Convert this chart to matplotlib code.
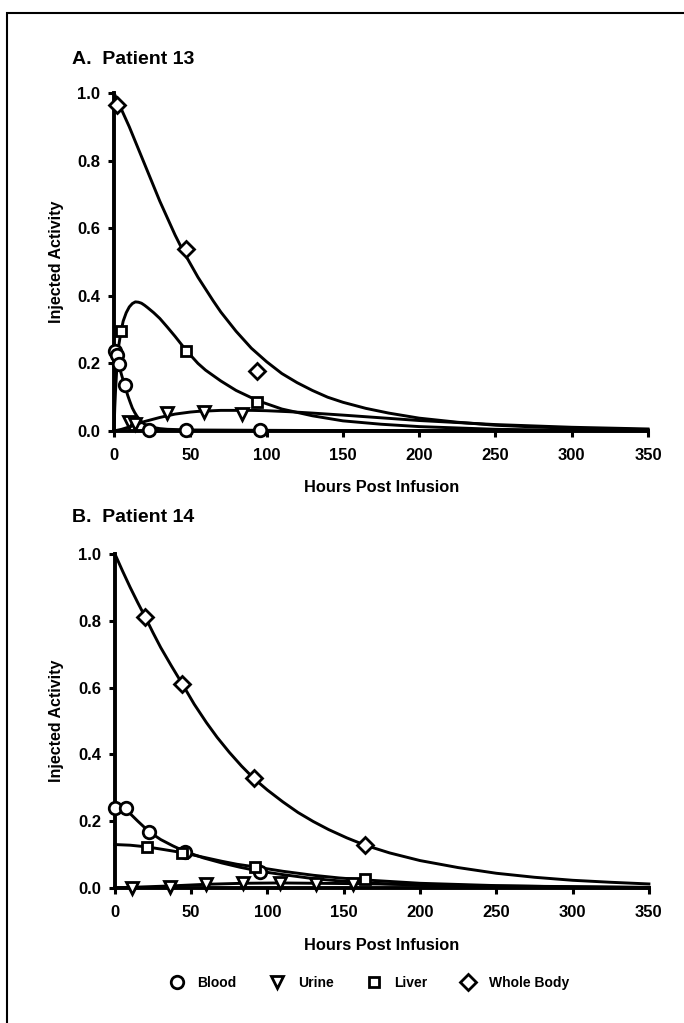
import matplotlib
matplotlib.use("Agg")
import matplotlib.pyplot as plt
from matplotlib.lines import Line2D
from matplotlib.patches import Rectangle

plt.rcParams['font.family'] = ['Liberation Sans', 'DejaVu Sans']
plt.rcParams['font.weight'] = 'bold'

# ---- Patient 13 : measured points ----
a_blood_t = [0.5, 2, 3.5, 7, 23, 47, 96]
a_blood_v = [0.236, 0.225, 0.197, 0.135, 0.004, 0.003, 0.002]
a_urine_t = [10, 14, 35, 59, 84]
a_urine_v = [0.028, 0.022, 0.054, 0.055, 0.05]
a_liver_t = [4.4, 47, 94]
a_liver_v = [0.296, 0.238, 0.087]
a_wb_t = [2.2, 47, 94]
a_wb_v = [0.965, 0.538, 0.178]

# ---- Patient 13 : fitted curves ----
a_blood_ct = [0, 1, 2, 3.5, 5, 6, 7, 8, 9, 10.5, 12, 13.5, 15, 17.5, 20, 25, 30, 35, 50, 100, 150, 350]
a_blood_cv = [0.245, 0.23, 0.214, 0.19, 0.165, 0.15, 0.136, 0.12, 0.105, 0.086, 0.068, 0.055, 0.044, 0.03,
              0.02, 0.011, 0.007, 0.005, 0.003, 0.002, 0.001, 0.0]
a_urine_ct = [0, 5, 10, 15, 20, 25, 30, 35, 40, 45, 50, 55, 60, 70, 80, 90, 100, 115, 130, 150, 175, 200,
              225, 250, 275, 300, 350]
a_urine_cv = [0.0, 0.005, 0.012, 0.02, 0.028, 0.034, 0.04, 0.045, 0.05, 0.053, 0.056, 0.058, 0.059, 0.061,
              0.061, 0.061, 0.06, 0.057, 0.053, 0.047, 0.039, 0.031, 0.025, 0.019, 0.015, 0.011, 0.006]
a_liver_ct = [0, 0.5, 1, 2, 3, 4.4, 6, 8, 10, 12, 14, 16, 18, 20, 22, 26, 30, 35, 40, 47, 55, 60, 70, 80,
              94, 110, 130, 150, 175, 200, 250, 300, 350]
a_liver_cv = [0.0, 0.07, 0.12, 0.2, 0.25, 0.29, 0.325, 0.35, 0.367, 0.377, 0.382, 0.381, 0.378, 0.372,
              0.365, 0.35, 0.333, 0.307, 0.28, 0.24, 0.2, 0.18, 0.148, 0.12, 0.09, 0.065, 0.045, 0.03, 0.02,
              0.013, 0.005, 0.002, 0.001]
a_wb_ct = [0, 2, 5, 10, 15, 20, 25, 30, 35, 40, 45, 50, 55, 60, 65, 70, 80, 90, 100, 110, 120, 130, 140,
           150, 165, 180, 200, 225, 250, 275, 300, 325, 350]
a_wb_cv = [1.0, 0.98, 0.95, 0.9, 0.845, 0.79, 0.735, 0.68, 0.63, 0.58, 0.535, 0.495, 0.455, 0.42, 0.385,
           0.352, 0.295, 0.245, 0.205, 0.17, 0.143, 0.12, 0.1, 0.085, 0.067, 0.053, 0.038, 0.026, 0.017,
           0.012, 0.008, 0.006, 0.004]

# ---- Patient 14 : measured points ----
b_blood_t = [0, 7, 22.5, 46, 95]
b_blood_v = [0.239, 0.239, 0.168, 0.109, 0.049]
b_urine_t = [11, 36, 60, 84, 108, 132, 156]
b_urine_v = [0.0, 0.004, 0.011, 0.014, 0.015, 0.013, 0.012]
b_liver_t = [21, 44, 92, 164]
b_liver_v = [0.123, 0.105, 0.062, 0.026]
b_wb_t = [20, 44, 91, 164]
b_wb_v = [0.81, 0.612, 0.328, 0.128]

# ---- Patient 14 : fitted curves ----
b_blood_ct = [0, 7, 15, 22.5, 30, 38, 46, 58, 70, 82, 95, 110, 130, 150, 165, 200, 250, 300, 350]
b_blood_cv = [0.24, 0.236, 0.2, 0.168, 0.145, 0.126, 0.109, 0.09, 0.075, 0.062, 0.05, 0.04, 0.028, 0.02,
              0.015, 0.008, 0.003, 0.001, 0.0]
b_urine_ct = [0, 11, 36, 60, 84, 108, 132, 156, 200, 250, 300, 350]
b_urine_cv = [0.0, 0.002, 0.006, 0.011, 0.014, 0.015, 0.014, 0.013, 0.01, 0.006, 0.004, 0.002]
b_liver_ct = [0, 10, 21, 32, 44, 57, 70, 80, 92, 110, 130, 147, 164, 200, 250, 300, 350]
b_liver_cv = [0.13, 0.128, 0.123, 0.115, 0.106, 0.093, 0.08, 0.071, 0.063, 0.05, 0.038, 0.03, 0.024,
              0.014, 0.007, 0.003, 0.001]
b_wb_ct = [0, 5, 10, 15, 20, 25, 30, 37, 44, 52, 60, 67, 75, 83, 91, 100, 110, 120, 130, 140, 152, 164, 180,
           200, 225, 250, 275, 300, 325, 350]
b_wb_cv = [1.0, 0.949, 0.9, 0.854, 0.81, 0.764, 0.72, 0.665, 0.612, 0.55, 0.495, 0.451, 0.406, 0.365, 0.328,
           0.293, 0.258, 0.226, 0.199, 0.175, 0.15, 0.128, 0.105, 0.082, 0.061, 0.044, 0.032, 0.023, 0.017,
           0.012]

xticks = [0, 50, 100, 150, 200, 250, 300, 350]
yticks = [0.0, 0.2, 0.4, 0.6, 0.8, 1.0]

fig = plt.figure(figsize=(6.84, 10.23), dpi=100)
fig.patches.append(Rectangle((0.0102, -0.2), 1.2, 1.1876, transform=fig.transFigure,
                             fill=False, edgecolor='black', linewidth=1.5))

mk = dict(markerfacecolor='white', markeredgecolor='black', markeredgewidth=2.0,
          linestyle='none', clip_on=False, zorder=5)


def panel(ax, curves, points):
    for t, v in curves:
        ax.plot(t, v, color='black', linewidth=2.1, clip_on=False, zorder=3,
                solid_joinstyle='round')
    for (t, v), m, s in zip(points, ['o', 'v', 's', 'D'], [9, 8, 7.5, 8]):
        ax.plot(t, v, marker=m, markersize=s, **mk)
    ax.set_xlim(0, 350)
    ax.set_ylim(0, 1)
    ax.set_xticks(xticks)
    ax.set_yticks(yticks)
    ax.set_yticklabels([f"{y:.1f}" for y in yticks])
    for s in ['top', 'right']:
        ax.spines[s].set_visible(False)
    for s in ['left', 'bottom']:
        ax.spines[s].set_linewidth(2.8)
    ax.tick_params(direction='out', length=4, width=2.2, labelsize=12)
    ax.tick_params(axis='x', pad=8)
    ax.tick_params(axis='y', pad=6)
    for lab in ax.get_xticklabels() + ax.get_yticklabels():
        lab.set_fontweight('bold')


ax1 = fig.add_axes([0.1667, 0.5787, 0.7807, 0.3304])
panel(ax1,
      [(a_blood_ct, a_blood_cv), (a_urine_ct, a_urine_cv), (a_liver_ct, a_liver_cv), (a_wb_ct, a_wb_cv)],
      [(a_blood_t, a_blood_v), (a_urine_t, a_urine_v), (a_liver_t, a_liver_v), (a_wb_t, a_wb_v)])

ax2 = fig.add_axes([0.168, 0.132, 0.7807, 0.3265])
panel(ax2,
      [(b_blood_ct, b_blood_cv), (b_urine_ct, b_urine_cv), (b_liver_ct, b_liver_cv), (b_wb_ct, b_wb_cv)],
      [(b_blood_t, b_blood_v), (b_urine_t, b_urine_v), (b_liver_t, b_liver_v), (b_wb_t, b_wb_v)])

fig.text(0.105, 1 - 59 / 1023, "A.  Patient 13", fontsize=14, fontweight='bold', va='center')
fig.text(0.105, 1 - 517 / 1023, "B.  Patient 14", fontsize=14, fontweight='bold', va='center')
for yc in [262, 721]:
    fig.text(0.083, 1 - yc / 1023, "Injected Activity", rotation=90, fontsize=11.5,
             fontweight='bold', ha='center', va='center')
for yc in [488, 946]:
    fig.text(0.558, 1 - yc / 1023, "Hours Post Infusion", fontsize=11.8,
             fontweight='bold', ha='center', va='center')

names = ['Blood', 'Urine', 'Liver', 'Whole Body']
handles = [Line2D([], [], marker=m, markersize=s, markerfacecolor='white', markeredgecolor='black',
                  markeredgewidth=2.0, linestyle='none')
           for m, s in zip(['o', 'v', 's', 'D'], [9, 8, 7.5, 8])]
leg = fig.legend(handles, names, loc='center', bbox_to_anchor=(0.535, 1 - 983 / 1023), ncol=4,
                 frameon=False, handletextpad=0.5, columnspacing=1.9, prop={'size': 10, 'weight': 'bold'})

fig.savefig("out.png", dpi=100)
